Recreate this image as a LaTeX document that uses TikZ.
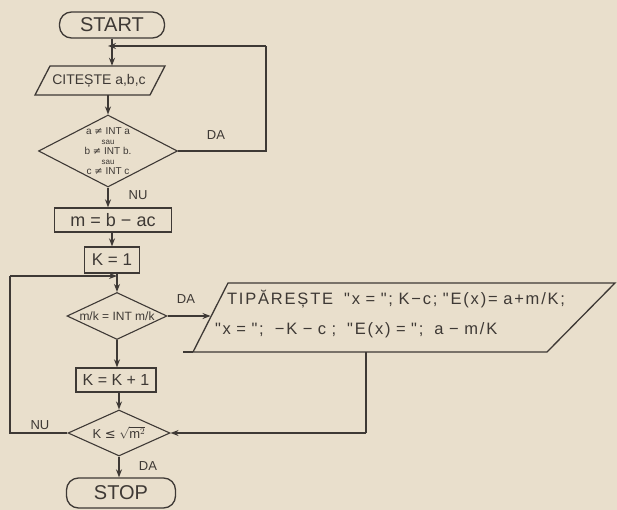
\documentclass[tikz,border=0pt]{standalone}
\usepackage{fontspec}
\setmainfont{Liberation Sans}
\newfontfamily\sym{DejaVu Sans}
\newfontfamily\wide[LetterSpace=11]{Liberation Sans}
\usetikzlibrary{shapes.geometric,arrows.meta}
\definecolor{paper}{HTML}{E9DFCC}
\definecolor{ink}{HTML}{3E3935}
\begin{document}
\begin{tikzpicture}[x=1pt,y=-1pt,
  every node/.style={text=ink},
  ln/.style={draw=ink,line width=1.3pt},
  arr/.style={ln,-{Stealth[length=8pt,width=6pt]}},
  term/.style={draw=ink,line width=1.3pt,rectangle,rounded corners=12pt,inner sep=0pt},
  proc/.style={draw=ink,line width=1.3pt,rectangle,inner sep=0pt},
  dec/.style={draw=ink,line width=1.1pt,diamond,inner sep=0pt},
  lab/.style={font=\fontsize{13}{13}\selectfont}
]
\fill[paper] (0,0) rectangle (617,510);
\useasboundingbox (0,0) rectangle (617,510);

% nodes
\node[term,minimum width=105pt,minimum height=26pt,font=\fontsize{20}{20}\selectfont] (start) at (112,25) {START};
\node[minimum width=100pt,minimum height=29pt,inner sep=0pt,font=\fontsize{14}{14}\selectfont] (cit) at (99,80.5) {CITEȘTE a,b,c};
\draw[ln] (50,66) -- (165,66) -- (150,95) -- (35,95) -- cycle;
\node[dec,minimum width=139pt,minimum height=72pt,
  label={[align=center,font=\fontsize{10}{10}\selectfont,text=ink]center:a {\sym≠} INT a\\{\fontsize{8}{8}\selectfont sau}\\b {\sym≠} INT b.\\{\fontsize{8}{8}\selectfont sau}\\c {\sym≠} INT c}] (d1) at (108,151) {};
\node[proc,minimum width=117pt,minimum height=24pt,font=\fontsize{18}{18}\selectfont] (m) at (113,220) {m = b − ac};
\node[proc,minimum width=55pt,minimum height=26pt,font=\fontsize{17}{17}\selectfont] (k1) at (112,260) {K = 1};
\node[dec,minimum width=100pt,minimum height=47pt,
  label={[font=\fontsize{12}{12}\selectfont,text=ink]center:m/k = INT m/k}] (d2) at (117,316) {};
\node[minimum width=362pt,minimum height=69pt,text width=362pt,inner sep=0pt,align=left,font=\fontsize{16.5}{30}\wide] (pr) at (396,314)
  {\hspace*{12pt}TIPĂREȘTE \ "x = ";\ K−c;\ "E(x)= a+m/K;\\"x = ";\ \ −K − c ;\ \ "E(x) = ";\ \ a − m/K};
\draw[ln] (228,283) -- (615,283) -- (547,352) -- (193,352) -- cycle;
\draw[ln] (183,352) -- (193,352);
\node[proc,minimum width=80pt,minimum height=24pt,font=\fontsize{16}{16}\selectfont] (kk) at (116,380) {K = K + 1};
\node[dec,minimum width=102pt,minimum height=46pt,
  label={[font=\fontsize{13}{13}\selectfont,text=ink]center:K {\sym≤} $\sqrt{\mathrm{m}^{2}}$}] (d3) at (119,433) {};
\node[term,minimum width=109pt,minimum height=30pt,font=\fontsize{20}{20}\selectfont] (stop) at (121,493) {STOP};

% helper coordinates
\coordinate (j1) at (108,46);
\coordinate (r1) at (266,151);
\coordinate (r1t) at (266,46);
\coordinate (j2) at (117,276);
\coordinate (l2) at (10,276);
\coordinate (l2b) at (10,433);
\coordinate (pl) at (210.5,316);
\coordinate (pout) at (366,352);
\coordinate (pdn) at (366,433);

% connectors
\draw[arr] (start.south) -- (start.south |- cit.north);
\draw[arr] (cit.south -| d1.north) -- (d1.north);
\draw[ln] (d1.east) -- (r1) -- (r1t);
\draw[arr] (r1t) -- (j1);
\draw[arr] (d1.south) -- (d1.south |- m.north);
\draw[arr] (m.south -| k1.north) -- (k1.north);
\draw[arr] (k1.south -| d2.north) -- (d2.north);
\draw[arr] (d2.east) -- (pl);
\draw[arr] (d2.south) -- (d2.south |- kk.north);
\draw[arr] (kk.south -| d3.north) -- (d3.north);
\draw[ln] (pout) -- (pdn);
\draw[arr] (pdn) -- (d3.east);
\draw[ln] (d3.west) -- (l2b) -- (l2);
\draw[arr] (l2) -- (j2);
\draw[arr] (d3.south) -- (d3.south |- stop.north);

% labels
\node[lab] (da1) at (216,135) {DA};
\node[lab] (nu1) at (138,195) {NU};
\node[lab] (da2) at (186,299) {DA};
\node[lab] (nu2) at (40,425) {NU};
\node[lab] (da3) at (148,466) {DA};
\end{tikzpicture}
\end{document}
